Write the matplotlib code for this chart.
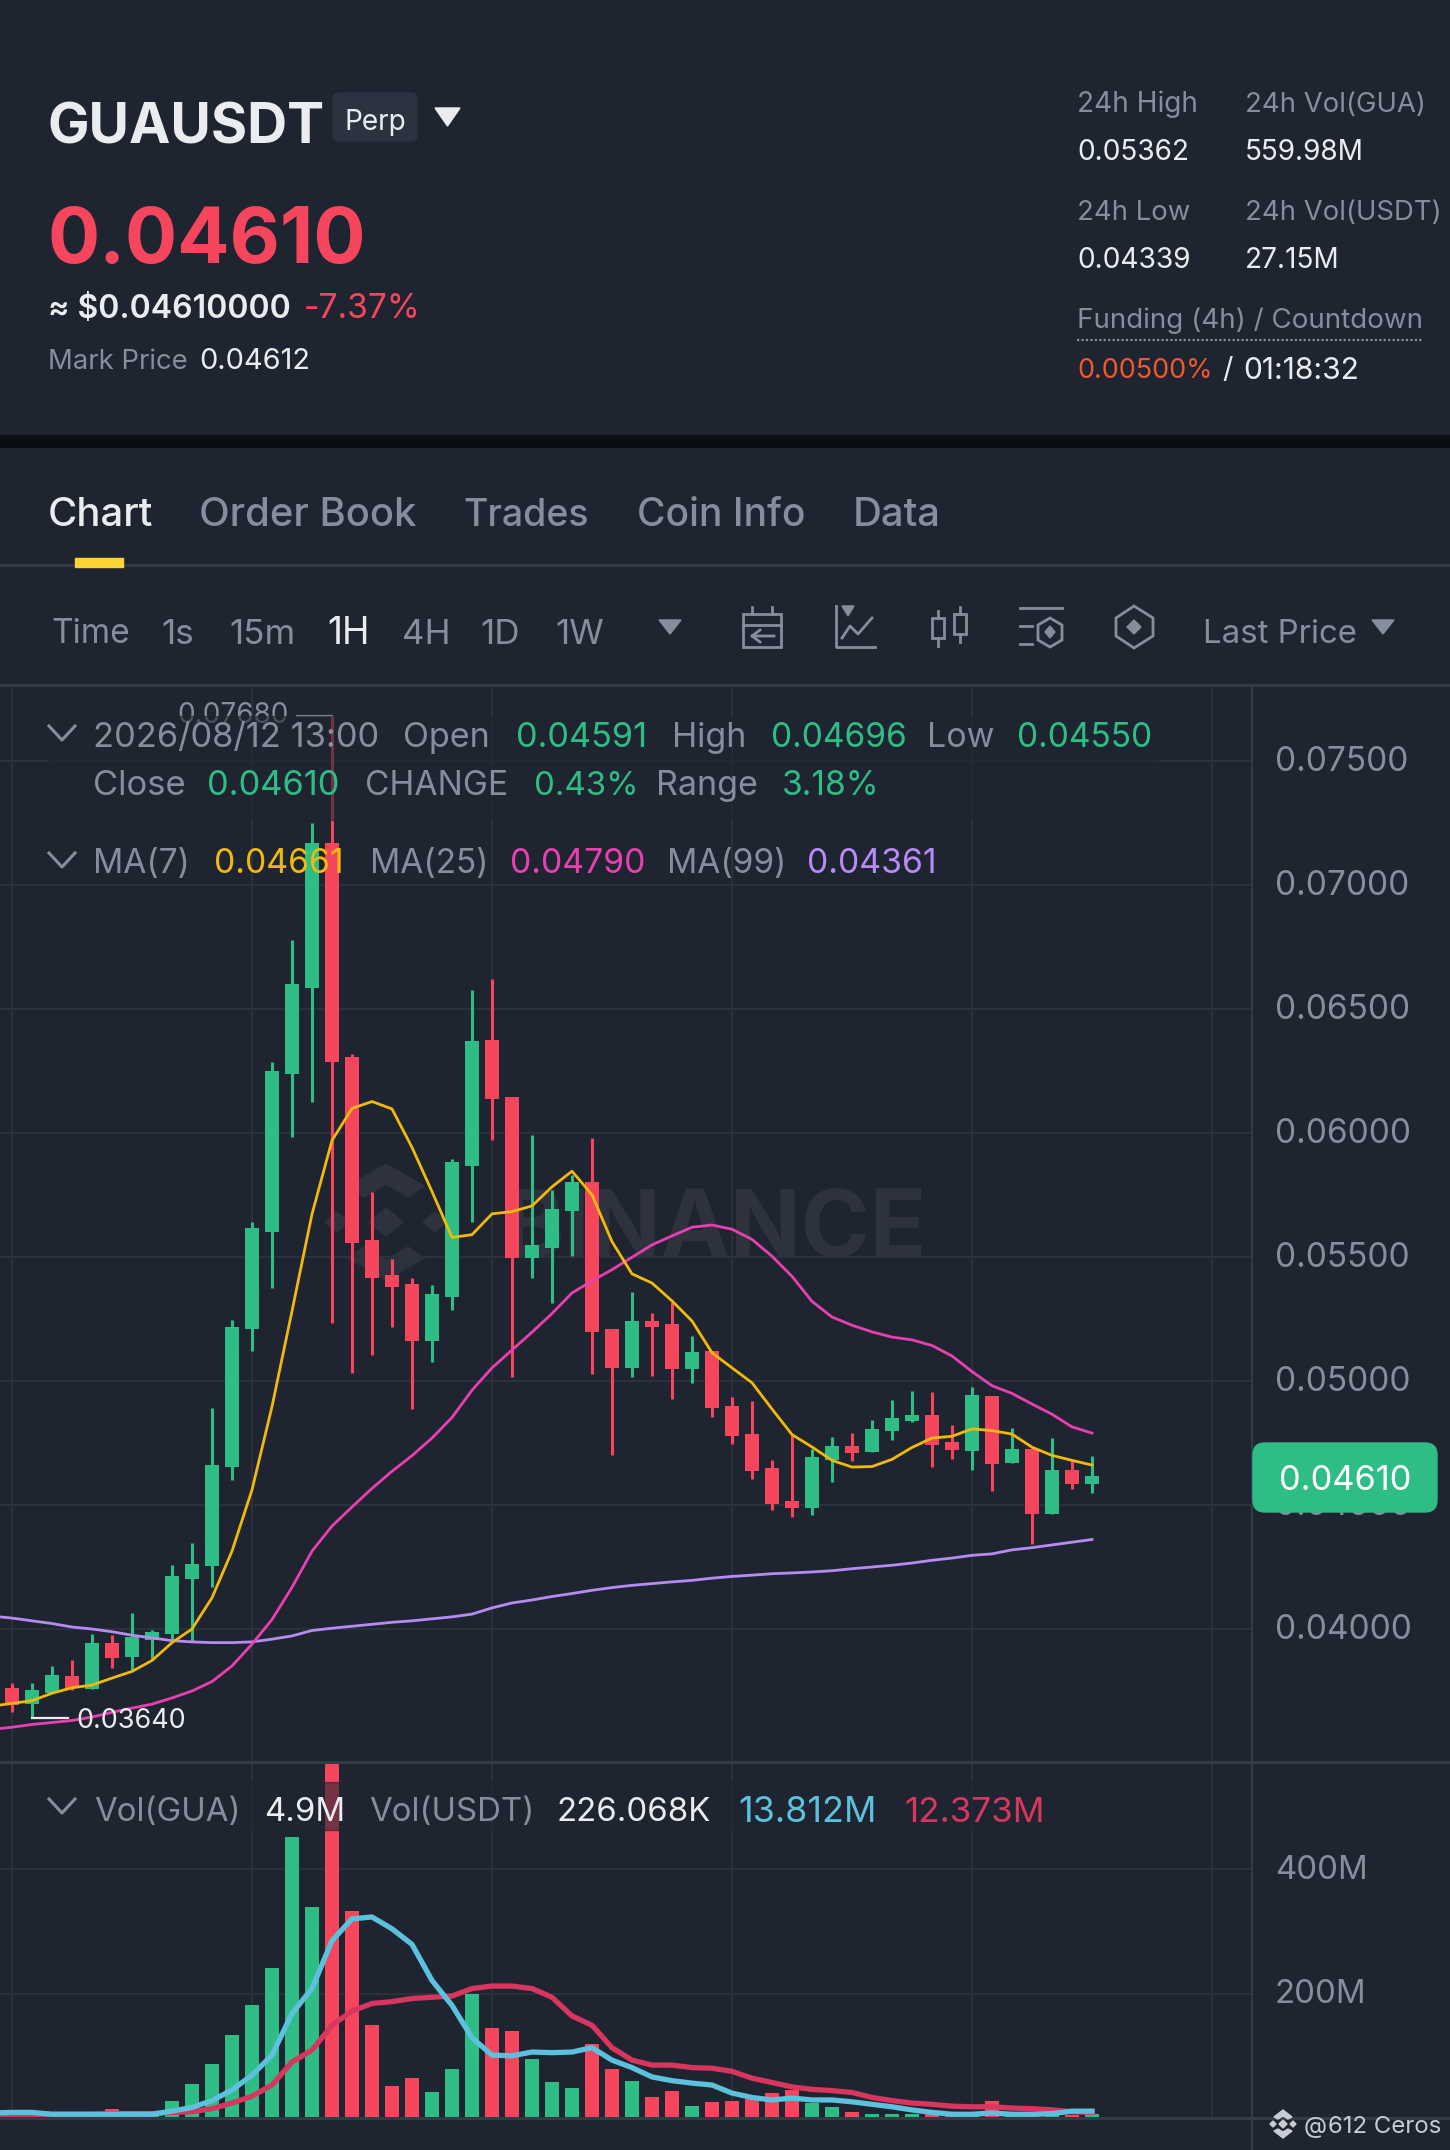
import numpy as np
import matplotlib
matplotlib.use("Agg")
import matplotlib.pyplot as plt
from matplotlib.patches import Polygon, Rectangle, FancyBboxPatch
from matplotlib.transforms import ScaledTranslation

plt.rcParams['font.family'] = ['Inter', 'DejaVu Sans']

# prices in units of 0.00001
opens = [3763,3697,3741,3810,3758,3942,3887,3956,3981,4201,4253,4652,5211,5601,6237,6584,7170,6306,5568,5428,
         5392,5161,5337,5868,6374,6145,5495,5535,5684,5801,5209,5053,5242,5231,5047,5119,4901,4788,4649,4516,
         4489,4680,4739,4712,4797,4840,4864,4754,4719,4941,4668,4726,4465,4641,4586]
highs = [3783,3783,3851,3873,3978,3975,4066,3994,4259,4347,4891,5246,5640,6286,6779,7249,7680,6319,5764,5491,
         5417,5387,5896,6575,6619,6145,5992,5769,5832,5980,5209,5360,5274,5319,5182,5119,4937,4921,4682,4783,
         4725,4774,4792,4844,4925,4959,4955,4824,4976,4941,4809,4729,4770,4682,4696]
lows = [3664,3640,3741,3755,3758,3843,3835,3873,3956,3953,4170,4600,5120,5373,5984,6124,5235,5034,5103,5219,
        4886,5076,5285,5640,5970,5015,5414,5315,5503,5029,4702,5018,5020,4928,4993,4853,4747,4604,4480,4450,
        4460,4594,4676,4712,4763,4835,4653,4685,4643,4555,4668,4342,4465,4565,4550]
closes = [3692,3755,3813,3761,3945,3882,3967,3989,4215,4264,4663,5219,5615,6251,6600,7170,6286,5557,5414,5378,
          5161,5351,5882,6372,6138,5495,5548,5693,5801,5198,5054,5242,5216,5047,5117,4891,4779,4639,4505,4487,
          4693,4739,4711,4806,4851,4864,4743,4720,4944,4667,4726,4463,4641,4585,4616]
# moving averages start one candle left of the frame
ma7 = [3689,3700,3711,3741,3763,3774,3802,3829,3873,3945,4000,4126,4314,4561,4897,5282,5673,5970,6099,6127,
       6097,5942,5764,5579,5590,5674,5683,5706,5783,5846,5751,5562,5432,5395,5323,5242,5114,5053,4993,4887,
       4784,4734,4680,4653,4655,4684,4732,4770,4777,4807,4800,4786,4733,4700,4680,4661]
ma25 = [3595,3604,3615,3623,3631,3645,3664,3681,3697,3722,3750,3788,3851,3939,4038,4168,4314,4415,4492,4567,
        4636,4699,4770,4853,4963,5053,5125,5197,5272,5355,5404,5449,5499,5549,5585,5620,5629,5612,5571,5503,
        5422,5321,5258,5225,5198,5177,5166,5143,5101,5038,4981,4950,4907,4866,4815,4790]
ma99 = [4052,4044,4033,4022,4008,4000,3989,3975,3964,3953,3948,3945,3945,3948,3959,3972,3994,4003,4011,4019,
        4027,4033,4041,4049,4060,4085,4105,4117,4131,4143,4156,4167,4176,4183,4190,4196,4205,4212,4217,4223,
        4226,4230,4235,4243,4250,4257,4266,4277,4286,4297,4303,4319,4328,4339,4350,4361]
# volume in millions
volume = [8,8,7,7,7,14,7,10,27,55,87,133,181,241,452,339,576,333,149,52,64,41,78,199,144,140,94,58,49,119,
          79,60,34,44,20,25,27,30,40,45,24,18,9,7,7,7,6,5,10,28,5,6,5,5,7]
vol_ma_a = [8,9,9,6,6,6,6,6,6,11,17,28,45,69,101,168,208,285,320,323,304,279,221,181,129,101,100,106,105,106,
            113,93,81,66,60,56,53,40,33,29,32,29,29,26,22,18,13,9,6,6,8,6,6,7,11,11]
vol_ma_b = [6,6,6,6,6,6,7,7,7,9,10,15,24,35,53,90,109,149,172,184,187,192,194,196,208,212,212,208,194,164,
            149,113,93,85,85,81,80,75,64,57,50,46,44,41,33,28,24,22,19,18,18,16,15,13,10,9]

price_ticks = [0.04, 0.045, 0.05, 0.055, 0.06, 0.065, 0.07, 0.075]
vol_ticks = [200, 400]
grid_x = [0, 12, 24, 36, 48, 60]

BG = '#1f2530'
GREEN = '#2ebd85'
RED = '#f6465d'
GREY = '#848e9c'
WHITE = '#eaecef'
GRID = '#2a313c'
LINE = '#333b47'

W, H = 1450, 2150
fig = plt.figure(figsize=(W / 100, H / 100), dpi=100, facecolor=BG)


def box(left, top, right, bottom):
    return [left / W, 1 - bottom / H, (right - left) / W, (bottom - top) / H]


# pixel layer under the chart for the watermark, and one over it for the text
under = fig.add_axes([0, 0, 1, 1], zorder=0)
under.set_xlim(0, W)
under.set_ylim(H, 0)
under.axis('off')
ui = fig.add_axes([0, 0, 1, 1], zorder=3)
ui.set_xlim(0, W)
ui.set_ylim(H, 0)
ui.axis('off')
ui.patch.set_alpha(0)


def t(x, y, s, size, color=GREY, weight='normal', ha='left', ax=ui, z=5):
    # y is the middle of the capitals, size in pixels
    ax.text(x, y + 0.36 * size, s, fontsize=size * 0.72, color=color, fontweight=weight,
            ha=ha, va='baseline', zorder=z)


# watermark
WM = '#2d323d'
under.text(927, 1257, 'BINANCE', fontsize=93 * 0.72, fontweight='bold', color=WM, ha='right', va='baseline')
for cx, cy, dx, dy in [(386, 1222, 17, 14), (337, 1222, 12, 10), (435, 1222, 12, 10)]:
    under.add_patch(Polygon([(cx - dx, cy), (cx, cy - dy), (cx + dx, cy), (cx, cy + dy)], color=WM))
under.add_patch(Polygon([(386, 1164), (424, 1186), (408, 1197), (386, 1184), (364, 1197), (348, 1186)], color=WM))
under.add_patch(Polygon([(386, 1280), (424, 1258), (408, 1247), (386, 1260), (364, 1247), (348, 1258)], color=WM))

# price panel
x = np.arange(len(closes))
line_x = np.arange(-1, len(closes))
o = np.array(opens) / 1e5
h = np.array(highs) / 1e5
l = np.array(lows) / 1e5
c = np.array(closes) / 1e5
colors = [GREEN if b >= a else RED for a, b in zip(opens, closes)]

ax = fig.add_axes(box(0, 686, 1252, 1762), zorder=1)
ax.patch.set_alpha(0)
ax.set_xlim(-0.6, 62)
ax.set_ylim(0.04 - 133 / 24800, 0.04 + 943 / 24800)
ax.set_xticks(grid_x)
ax.set_yticks(price_ticks)
ax.set_yticklabels(['%.5f' % v for v in price_ticks], fontsize=33.5 * 0.72, color=GREY)
ax.yaxis.tick_right()
ax.tick_params(length=0, pad=16.5, labelbottom=False)
ax.grid(True, color=GRID, linewidth=1.5)
ax.set_axisbelow(True)
for s in ax.spines.values():
    s.set_visible(False)
shift = ScaledTranslation(0, 2.5 / 100, fig.dpi_scale_trans)
for lab in ax.get_yticklabels():
    lab.set_transform(lab.get_transform() + shift)

ax.vlines(x, l, h, colors=colors, linewidth=2.2, zorder=3)
ax.bar(x, np.abs(c - o), bottom=np.minimum(o, c), width=0.7, color=colors, zorder=3)
ax.plot(line_x, np.array(ma99) / 1e5, color='#b78bf4', linewidth=2.0, zorder=4)
ax.plot(line_x, np.array(ma25) / 1e5, color='#e93fb0', linewidth=2.0, zorder=4)
ax.plot(line_x, np.array(ma7) / 1e5, color='#f0b90b', linewidth=2.0, zorder=4)

# high and low markers
ax.plot([14.25, 16], [0.0768, 0.0768], color=GREY, linewidth=1.6, zorder=3)
ax.text(13.85, 0.0768 + 0.00004, '0.07680', fontsize=28 * 0.72, color=GREY, ha='right', va='center', zorder=3)
ax.plot([1, 2.8], [0.0364, 0.0364], color=WHITE, linewidth=1.6, zorder=5)
ax.text(3.2, 0.0364 - 0.0001, '0.03640', fontsize=27 * 0.72, color=WHITE, ha='left', va='center', zorder=5)

# volume panel
vx = fig.add_axes(box(0, 1762, 1252, 2118), zorder=2)
vx.patch.set_alpha(0)
vx.set_xlim(-0.6, 62)
vx.set_ylim(0, 572)
vx.set_xticks(grid_x)
vx.set_yticks(vol_ticks)
vx.set_yticklabels(['%dM' % v for v in vol_ticks], fontsize=33 * 0.72, color=GREY)
vx.yaxis.tick_right()
vx.tick_params(length=0, pad=16.5, labelbottom=False)
vx.grid(True, color=GRID, linewidth=1.5)
vx.set_axisbelow(True)
for s in vx.spines.values():
    s.set_visible(False)
for lab in vx.get_yticklabels():
    lab.set_transform(lab.get_transform() + shift)
vx.bar(x, volume, width=0.7, color=colors, zorder=3)
vx.plot(line_x, vol_ma_b, color='#d8355f', linewidth=3.8, zorder=4)
vx.plot(line_x, vol_ma_a, color='#5cc1dc', linewidth=3.8, zorder=5)

# frame lines
ui.plot([1252, 1252], [686, H], color=LINE, linewidth=1.5, zorder=1)
ui.plot([0, W], [685, 685], color=LINE, linewidth=2.2, zorder=1)
ui.plot([0, W], [1762, 1762], color=LINE, linewidth=2.2, zorder=1)
ui.plot([0, W], [2118, 2118], color=LINE, linewidth=2.2, zorder=1)
ui.plot([0, W], [565, 565], color=LINE, linewidth=2.0, zorder=1)
ui.add_patch(Rectangle((0, 435), W, 12, color='#0b0e11', zorder=1))
ui.add_patch(Rectangle((75, 558), 48, 9, color='#fcd535', zorder=2))

# header
t(48, 124, 'GUAUSDT', 55.5, '#eaecef', 'bold')
ui.add_patch(FancyBboxPatch((333, 93), 84, 48, boxstyle='round,pad=0,rounding_size=6', color='#2b3240', zorder=1))
t(345, 120, 'Perp', 28, '#eaecef')
ui.add_patch(Polygon([(435, 108), (460, 108), (447.5, 126)], color='#eaecef'))
t(48, 235, '0.04610', 77.5, RED, 'bold')
t(48, 306, '≈ $0.04610000', 32, '#eaecef', 'semibold')
t(304, 306, '-7.37%', 33.5, RED)
t(48, 359, 'Mark Price', 27.5, GREY)
t(199, 359, '0.04612', 29, '#eaecef')
t(1077, 102, '24h High', 28, GREY)
t(1245, 102, '24h Vol(GUA)', 27.5, GREY)
t(1077, 150, '0.05362', 28, '#eaecef')
t(1245, 150, '559.98M', 28, '#eaecef')
t(1077, 210, '24h Low', 27.5, GREY)
t(1245, 210, '24h Vol(USDT)', 27.5, GREY)
t(1077, 258, '0.04339', 28, '#eaecef')
t(1245, 258, '27.15M', 28, '#eaecef')
t(1077, 318, 'Funding (4h) / Countdown', 27.8, GREY)
ui.plot([1077, 1422], [340, 340], color=GREY, linewidth=1.6, linestyle=(0, (1, 1)))
t(1077, 368, '0.00500%', 27, '#f0592b')
t(1222, 368, '/', 29, '#eaecef')
t(1243, 368, '01:18:32', 30, '#eaecef')

# tabs
t(48, 512, 'Chart', 40, '#eaecef', 'medium')
t(199, 512, 'Order Book', 40, GREY, 'medium')
t(463, 512, 'Trades', 37.5, GREY, 'medium')
t(637, 512, 'Coin Info', 39, GREY, 'medium')
t(853, 512, 'Data', 40, GREY, 'medium')

# toolbar
for tx, s, col, sz in [(51, 'Time', GREY, 33.5), (161, '1s', GREY, 35), (229, '15m', GREY, 35), (327, '1H', '#eaecef', 37),
                       (402, '4H', GREY, 35), (480, '1D', GREY, 35), (555, '1W', GREY, 35), (1203, 'Last Price', GREY, 33)]:
    t(tx, 631, s, sz, col)
ui.add_patch(Polygon([(659, 620), (681, 620), (670, 634)], color=GREY))
ui.add_patch(Polygon([(1372, 620), (1394, 620), (1383, 634)], color=GREY))

# toolbar icons
lw = 2.0
ui.add_patch(Rectangle((743, 614), 38, 33, fill=False, edgecolor=GREY, linewidth=lw))
ui.plot([743, 781], [625, 625], color=GREY, linewidth=lw)
ui.plot([752, 752], [607, 614], color=GREY, linewidth=lw)
ui.plot([772, 772], [607, 614], color=GREY, linewidth=lw)
ui.plot([774, 752, 760], [636, 636, 630], color=GREY, linewidth=lw)
ui.plot([752, 760], [636, 642], color=GREY, linewidth=lw)
ui.plot([836, 836, 875], [606, 647, 647], color=GREY, linewidth=lw)
ui.plot([842, 850, 858, 872], [638, 626, 634, 618], color=GREY, linewidth=lw)
ui.add_patch(Polygon([(842, 606), (854, 606), (848, 616)], color=GREY))
for cx, top, bot in [(938, 618, 638), (960, 614, 634)]:
    ui.add_patch(Rectangle((cx - 6, top), 12, bot - top, fill=False, edgecolor=GREY, linewidth=lw))
    ui.plot([cx, cx], [top - 7, top], color=GREY, linewidth=lw)
    ui.plot([cx, cx], [bot, bot + 8], color=GREY, linewidth=lw)
ui.plot([1020, 1062], [608, 608], color=GREY, linewidth=lw)
ui.plot([1020, 1032], [626, 626], color=GREY, linewidth=lw)
ui.plot([1020, 1032], [644, 644], color=GREY, linewidth=lw)
ui.add_patch(Polygon([(1050, 618), (1062, 625), (1062, 640), (1050, 647), (1038, 640), (1038, 625)], fill=False,
                     edgecolor=GREY, linewidth=lw))
ui.add_patch(Polygon([(1050, 626), (1055, 632), (1050, 638), (1045, 632)], color=GREY))
ui.add_patch(Polygon([(1134, 606), (1153, 618), (1153, 636), (1134, 648), (1116, 636), (1116, 618)], fill=False,
                     edgecolor=GREY, linewidth=lw))
ui.add_patch(Polygon([(1134, 620), (1141, 627), (1134, 634), (1127, 627)], color=GREY))

# legend rows, the panel behind them dims what is below
ui.add_patch(Rectangle((48, 716), 1110, 104, color=BG, alpha=0.6, zorder=2))
ui.add_patch(Rectangle((48, 1782), 1000, 48, color=BG, alpha=0.6, zorder=2))


def chevron(xc, yc):
    ui.plot([xc - 13, xc, xc + 13], [yc - 7, yc + 7, yc - 7], color=GREY, linewidth=2.2, zorder=5)


chevron(62, 733)
chevron(62, 860)
chevron(62, 1806)
t(93, 735, '2026/08/12 13:00', 34.5)
t(403, 735, 'Open', 34)
t(516, 735, '0.04591', 34.3, GREEN)
t(672, 735, 'High', 34)
t(771, 735, '0.04696', 33.5, GREEN)
t(927, 735, 'Low', 34)
t(1017, 735, '0.04550', 33.5, GREEN)
t(93, 783, 'Close', 34.5)
t(207, 783, '0.04610', 34.5, GREEN)
t(365, 783, 'CHANGE', 33.5)
t(534, 783, '0.43%', 33, GREEN)
t(656, 783, 'Range', 34)
t(782, 783, '3.18%', 33.5, GREEN)
t(93, 861, 'MA(7)', 33.5)
t(214, 861, '0.04661', 33.8, '#f0b90b')
t(370, 861, 'MA(25)', 33.5)
t(510, 861, '0.04790', 33.8, '#e93fb0')
t(667, 861, 'MA(99)', 33.5)
t(807, 861, '0.04361', 33.8, '#b78bf4')
t(94, 1809, 'Vol(GUA)', 33)
t(264, 1809, '4.9M', 33, '#eaecef')
t(369, 1809, 'Vol(USDT)', 33)
t(557, 1809, '226.068K', 33, '#eaecef')
t(738, 1809, '13.812M', 36, '#5cc1dc')
t(904, 1809, '12.373M', 35, '#d8355f')

# last price pill
ui.add_patch(FancyBboxPatch((1263, 1453), 164, 49, boxstyle='round,pad=10,rounding_size=12', color=GREEN, zorder=6))
t(1345, 1478, '0.04610', 34.5, 'white', ha='center', z=7)

# screenshot credit
MARK = '#c8ccd2'
for cx, cy, r in [(1283, 2124, 4), (1273, 2124, 3), (1293, 2124, 3)]:
    ui.add_patch(Polygon([(cx - r, cy), (cx, cy - r), (cx + r, cy), (cx, cy + r)], color=MARK, zorder=7))
ui.add_patch(Polygon([(1283, 2110), (1292, 2117), (1288, 2119), (1283, 2116), (1278, 2119), (1274, 2117)], color=MARK, zorder=7))
ui.add_patch(Polygon([(1283, 2138), (1292, 2131), (1288, 2129), (1283, 2132), (1278, 2129), (1274, 2131)], color=MARK, zorder=7))
t(1304, 2124, '@', 24, MARK, z=7)
t(1328, 2124, '612 Ceros', 24, MARK, z=7)

fig.savefig('out.png', dpi=100, facecolor=BG)
